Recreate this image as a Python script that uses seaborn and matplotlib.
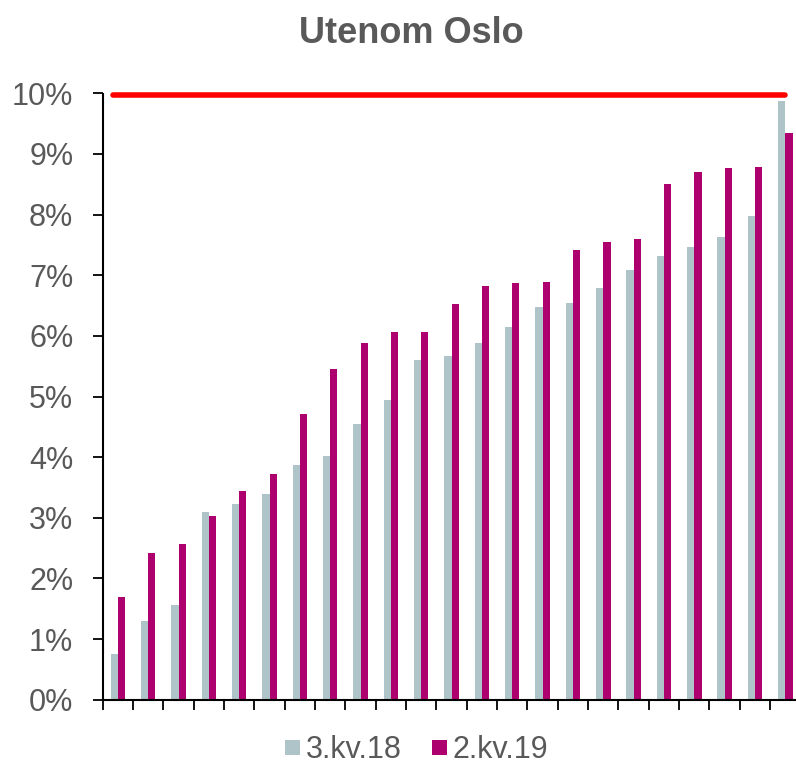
import matplotlib
matplotlib.use("Agg")
import matplotlib.pyplot as plt
from matplotlib.lines import Line2D
from matplotlib.ticker import FuncFormatter
import numpy as np
import pandas as pd
import seaborn as sns

# ---- data ----
categories = [f"K{i}" for i in range(1, 24)]
series_names = ["3.kv.18", "2.kv.19"]
q3_18 = [0.75, 1.30, 1.56, 3.10, 3.23, 3.39, 3.87, 4.02, 4.54, 4.95, 5.61, 5.67,
         5.88, 6.15, 6.48, 6.55, 6.79, 7.09, 7.32, 7.47, 7.63, 7.97, 9.88]
q2_19 = [1.69, 2.42, 2.57, 3.03, 3.44, 3.72, 4.71, 5.46, 5.89, 6.06, 6.07, 6.53,
         6.82, 6.87, 6.89, 7.41, 7.55, 7.59, 8.50, 8.71, 8.77, 8.79, 9.35]
limit_value = 10.0
yticks = list(range(0, 11))
title = "Utenom Oslo"

gray = "#AFC4C8"
magenta = "#AD006E"
red = "#FF0000"
text_color = "#595959"

df = pd.DataFrame({
    "category": categories * 2,
    "value": q3_18 + q2_19,
    "series": [series_names[0]] * len(categories) + [series_names[1]] * len(categories),
})

sns.set_theme(style="white")
plt.rcParams["font.family"] = ["Liberation Sans", "DejaVu Sans"]

fig = plt.figure(figsize=(7.96, 7.67), dpi=100)
W, H = 796, 767
left, right = 102.7 / W, 800.4 / W
bottom, top = 1 - 699.7 / H, 1 - 93.3 / H
ax = fig.add_axes([left, bottom, right - left, top - bottom])

sns.barplot(data=df, x="category", y="value", hue="series", order=categories,
            hue_order=series_names, palette=[gray, magenta], width=0.48,
            gap=0, linewidth=0, saturation=1, legend=False, ax=ax)

n = len(categories)
ax.hlines(limit_value - 0.02, -0.15, n - 1 + 0.0, color=red, linewidth=4.0,
          capstyle="round", zorder=5, clip_on=False)

ax.set_xlim(-0.5, n - 0.5)
ax.set_ylim(0, 10)
ax.set_yticks(yticks)
ax.yaxis.set_major_formatter(FuncFormatter(lambda v, p: f"{v:.0f}%"))
ax.set_xticks(np.arange(-0.5, n, 1.0))
ax.set_xticklabels([])
ax.set_xlabel("")
ax.set_ylabel("")

for s in ["top", "right"]:
    ax.spines[s].set_visible(False)
for s in ["left", "bottom"]:
    ax.spines[s].set_color("black")
    ax.spines[s].set_linewidth(1.5)
    ax.spines[s].set_capstyle("butt")

ax.tick_params(axis="y", which="major", direction="out", length=7.2, width=1.3,
               color="black", labelsize=22, labelcolor=text_color, pad=14, left=True)
ax.tick_params(axis="x", which="major", direction="out", length=7.2, width=1.3,
               color="black", bottom=True)

fig.text(411 / W, 1 - 42.7 / H, title, ha="center", va="baseline",
         fontsize=26, fontweight="bold", color=text_color)

handles = [Line2D([], [], linestyle="none", marker="s", markersize=10.8,
                  markerfacecolor=c, markeredgewidth=0)
           for c in (gray, magenta)]
leg = fig.legend(handles, series_names, loc="center", bbox_to_anchor=(416.5 / W, 1 - 750 / H),
                 ncol=2, frameon=False, fontsize=22, handlelength=0.5,
                 handletextpad=0.2, columnspacing=0.95, borderpad=0, borderaxespad=0)
for t in leg.get_texts():
    t.set_color(text_color)

fig.savefig("out.png", dpi=100)
